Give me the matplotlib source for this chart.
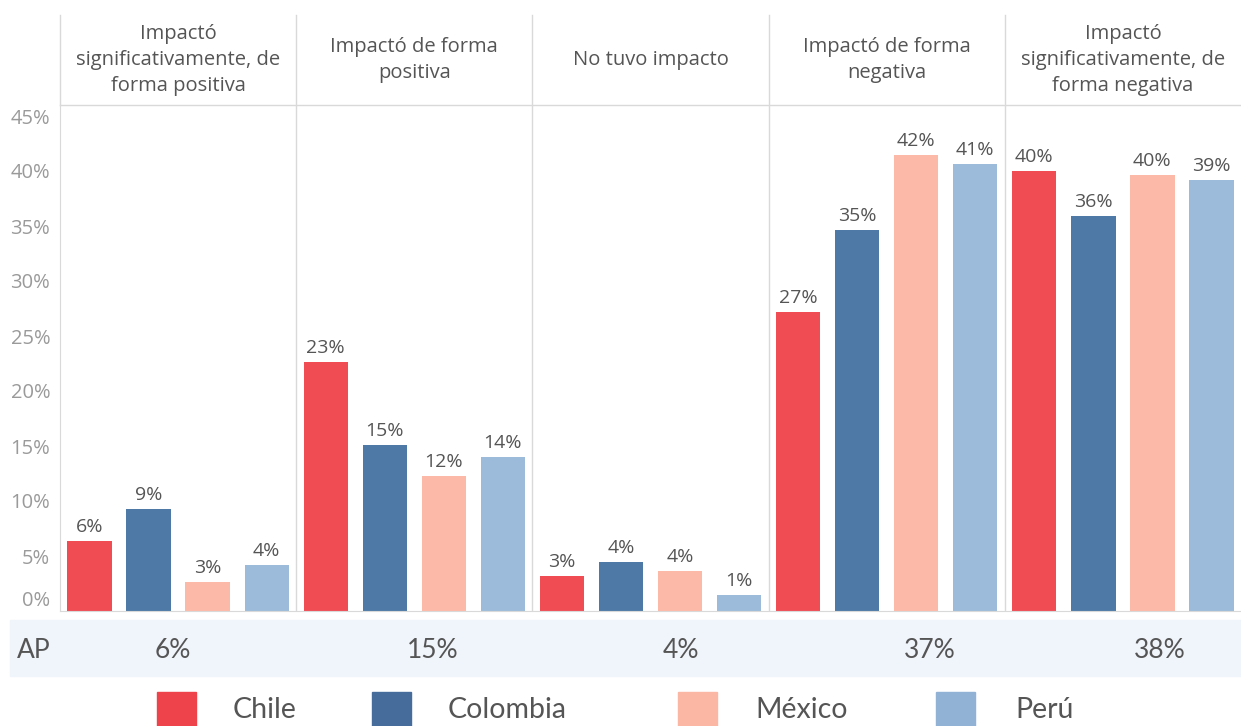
import matplotlib.pyplot as plt
import numpy as np

# data
categories = ["Impactó\nsignificativamente, de\nforma positiva",
              "Impactó de forma\npositiva",
              "No tuvo impacto",
              "Impactó de forma\nnegativa",
              "Impactó\nsignificativamente, de\nforma negativa"]
countries = ["Chile", "Colombia", "México", "Perú"]
chile = [6.4, 22.6, 3.2, 27.2, 40.0]
colombia = [9.3, 15.1, 4.5, 34.6, 35.9]
mexico = [2.6, 12.3, 3.6, 41.5, 39.6]
peru = [4.2, 14.0, 1.45, 40.6, 39.2]
ap_values = ["6%", "15%", "4%", "37%", "38%"]
yticks = [0, 5, 10, 15, 20, 25, 30, 35, 40, 45]

bar_colors = ["#F04C54", "#4E79A7", "#FDB9A8", "#9CBBDA"]
legend_colors = ["#EE434B", "#466C9B", "#FCB6A4", "#92B2D5"]
chart_font = "Open Sans"

W, H = 1241, 726
fig = plt.figure(figsize=(W / 100, H / 100), dpi=100)

def fx(px):
    return px / W

def fy(py):
    return 1 - py / H

ax = fig.add_axes([fx(60), fy(611), fx(1241) - fx(60), fy(105) - fy(611)])

series = [chile, colombia, mexico, peru]
n = len(categories)
for i, vals in enumerate(series):
    x = np.arange(n) * 4 + i
    bars = ax.bar(x, vals, width=0.75, color=bar_colors[i], zorder=2)
    for b, v in zip(bars, vals):
        ax.text(b.get_x() + b.get_width() / 2, v + 0.45, f"{round(v):.0f}%",
                ha="center", va="bottom", fontsize=14, color="#555555",
                family=chart_font)

ax.set_xlim(-0.5, n * 4 - 0.5)
ax.set_ylim(0, 46)
ax.set_xticks([])
ax.set_yticks(yticks)
ax.set_yticklabels([f"{t}%" for t in yticks], fontsize=14.5, color="#9a9a9a",
                   family=chart_font)
ax.tick_params(axis="y", length=0, pad=7)
for lab in ax.get_yticklabels():
    if lab.get_text() == "0%":
        lab.set_va("bottom")

for s in ["top", "right"]:
    ax.spines[s].set_visible(False)
ax.spines["left"].set_color("#d9d9d9")
ax.spines["bottom"].set_color("#d9d9d9")
for k in range(1, n):
    ax.axvline(k * 4 - 0.5, color="#d9d9d9", lw=1, zorder=1)

# header row
hdr = fig.add_axes([fx(60), fy(105), fx(1241) - fx(60), fy(15) - fy(105)])
hdr.set_xlim(-0.5, n * 4 - 0.5)
hdr.set_ylim(0, 1)
hdr.axis("off")
hdr.axhline(0, color="#d9d9d9", lw=1, clip_on=False)
hdr.axvline(-0.5, color="#d9d9d9", lw=1, clip_on=False)
for k in range(1, n):
    hdr.axvline(k * 4 - 0.5, color="#d9d9d9", lw=1, clip_on=False)
for k, c in enumerate(categories):
    hdr.text(k * 4 + 1.5, 0.5, c, ha="center", va="center", fontsize=14.5,
             color="#555555", family=chart_font, linespacing=1.42)

# AP row
band = plt.Rectangle((fx(10), fy(676)), fx(1241) - fx(10), fy(620) - fy(676),
                     transform=fig.transFigure, color="#F0F4FB", zorder=0)
fig.patches.append(band)
fig.text(fx(17), fy(650), "AP", ha="left", va="center", fontsize=19,
         color="#555555", family="Lato")
ap_x = [173, 433, 681, 930, 1160]
for px, v in zip(ap_x, ap_values):
    fig.text(fx(px), fy(650), v, ha="center", va="center", fontsize=19,
             color="#555555", family="Lato")

# legend
sq_x = [157, 372, 678, 936]
txt_x = [233, 448, 755, 1015]
for c, sx, tx, name in zip(legend_colors, sq_x, txt_x, countries):
    fig.patches.append(plt.Rectangle((fx(sx), fy(726)), fx(39), fy(692) - fy(726),
                                     transform=fig.transFigure, color=c))
    fig.text(fx(tx), fy(710), name, ha="left", va="center", fontsize=20.5,
             color="#555555", family="Lato")

fig.savefig("out.png", dpi=100)
